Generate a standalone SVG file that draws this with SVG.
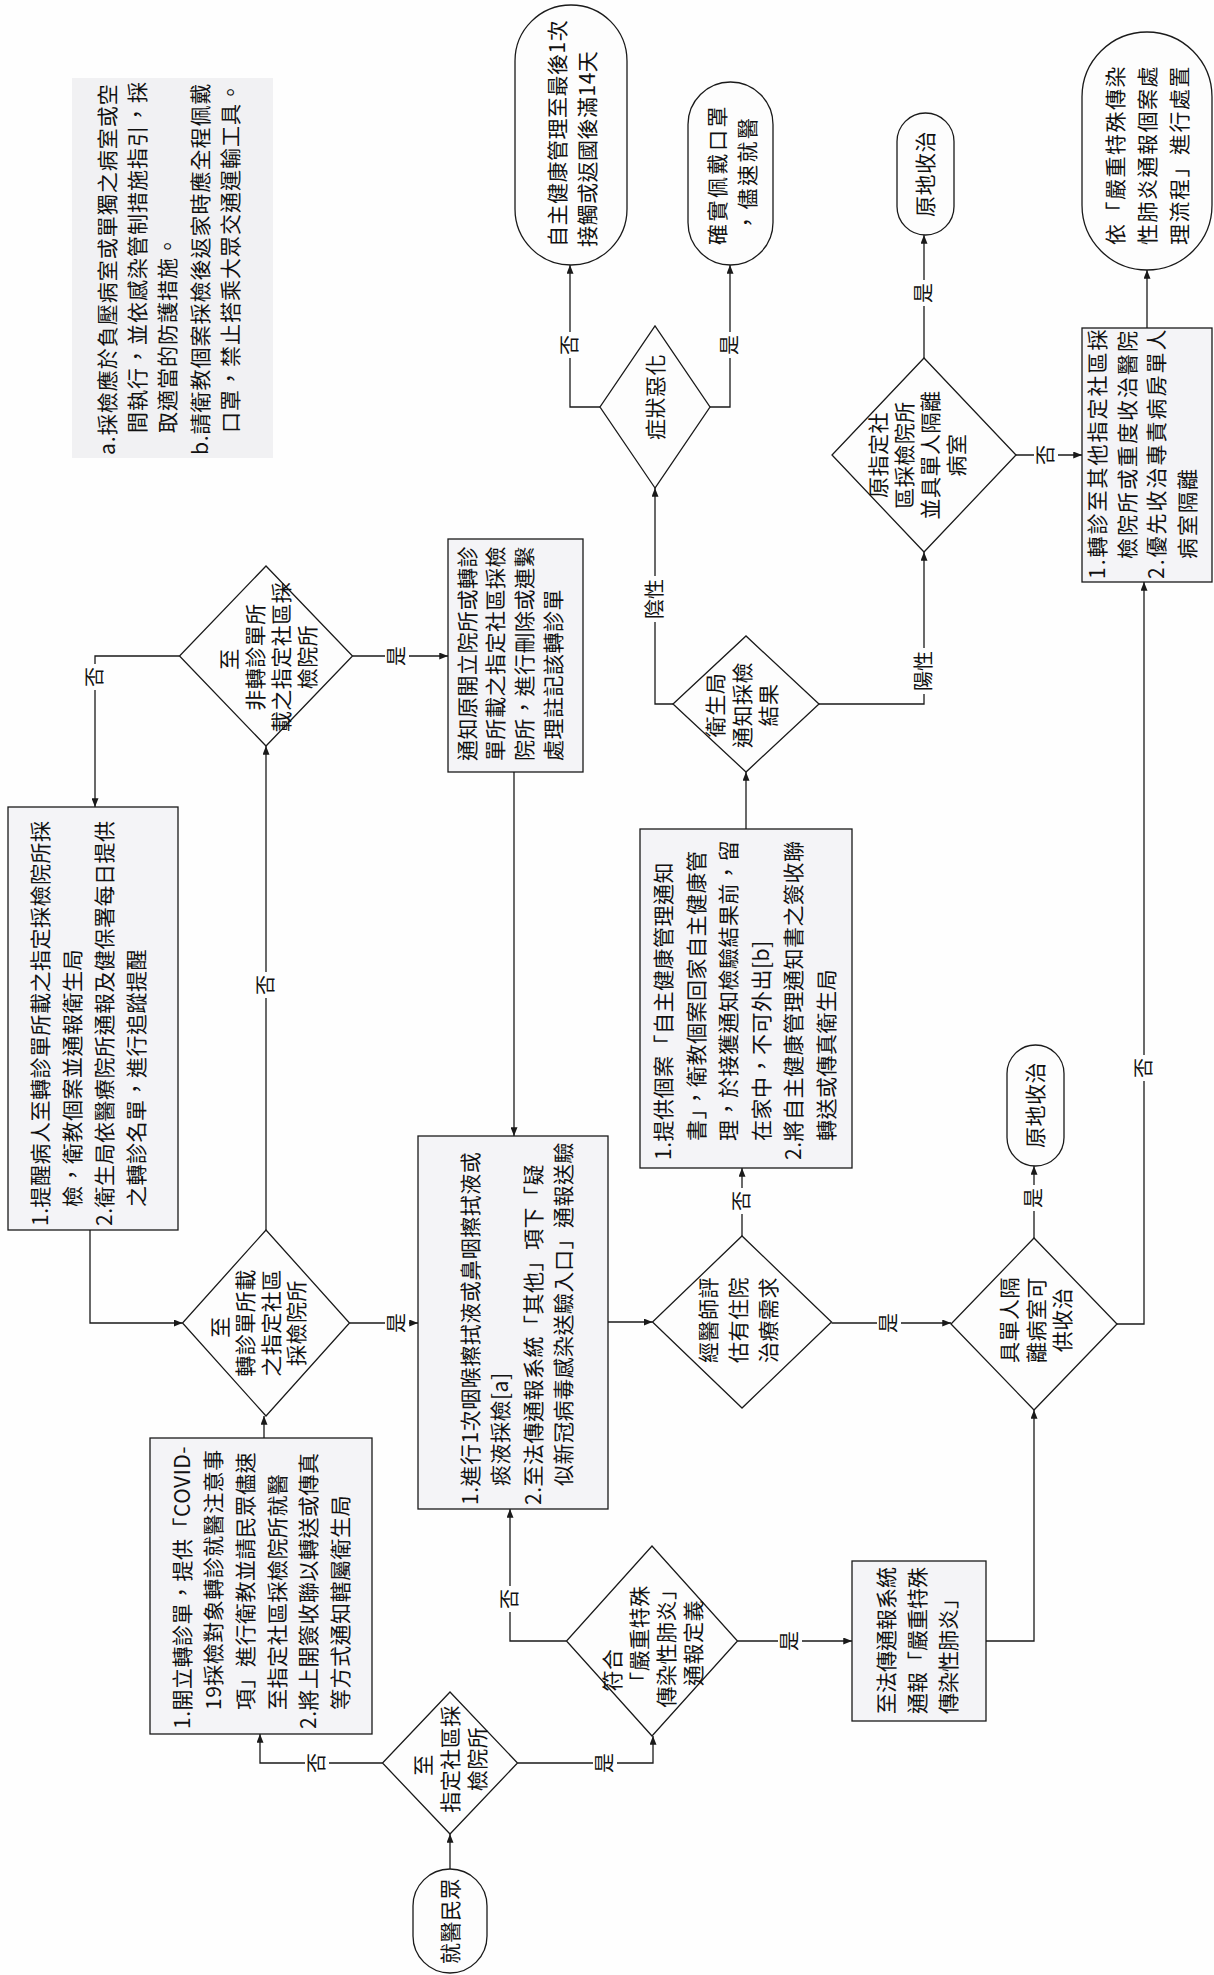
<svg xmlns="http://www.w3.org/2000/svg" width="1214" height="1975" viewBox="0 0 1214 1975">
<defs>
<style>
.b{fill:#f4f4f7;stroke:#1a1a1a;stroke-width:1.3}
.w{fill:#fdfdfd;stroke:#1a1a1a;stroke-width:1.3}
.ln{fill:none;stroke:#1a1a1a;stroke-width:1.3}
.t{font-family:"Noto Sans CJK TC","Noto Sans CJK SC",sans-serif;font-size:21px;fill:#111;letter-spacing:0.5px}
.m{text-anchor:middle}
.lb{font-family:"Noto Sans CJK TC","Noto Sans CJK SC",sans-serif;font-size:20px;fill:#111;text-anchor:middle}
.bg{fill:#fefefe}
</style>
<marker id="ah" viewBox="0 0 10 8" refX="10" refY="4" markerWidth="9" markerHeight="7" orient="auto" markerUnits="userSpaceOnUse"><path d="M0,0L10,4L0,8z" fill="#1a1a1a"/></marker>
</defs>
<rect width="1214" height="1975" fill="#fefefe"/>
<g transform="translate(0,1975) rotate(-90)">

<g id="notes">
<rect x="1517" y="72" width="380" height="201" fill="#f1f1f3"/>
<text class="t" style="letter-spacing:1px"><tspan x="1520" y="114.5">a.採檢應於負壓病室或單獨之病室或空</tspan><tspan x="1542" y="144.5">間執行，並依感染管制措施指引，採</tspan><tspan x="1542" y="174.5">取適當的防護措施。</tspan><tspan x="1520" y="207.5">b.請衛教個案採檢後返家時應全程佩戴</tspan><tspan x="1542" y="237.5">口罩，禁止搭乘大眾交通運輸工具。</tspan></text>
</g>

<g id="connectors">
<path class="ln" d="M106,450H141" marker-end="url(#ah)"/>
<path class="ln" d="M212,382.5V260H241" marker-end="url(#ah)"/>
<path class="ln" d="M212,517.5V653H239" marker-end="url(#ah)"/>
<path class="ln" d="M334,566.5V510H466" marker-end="url(#ah)"/>
<path class="ln" d="M334,737.5V852" marker-end="url(#ah)"/>
<path class="ln" d="M537,264H559" marker-end="url(#ah)"/>
<path class="ln" d="M652,349.5V418" marker-end="url(#ah)"/>
<path class="ln" d="M745,266H1229" marker-end="url(#ah)"/>
<path class="ln" d="M745,90H652V182.5" marker-end="url(#ah)"/>
<path class="ln" d="M1319,179.5V95H1168" marker-end="url(#ah)"/>
<path class="ln" d="M1319,352.5V448" marker-end="url(#ah)"/>
<path class="ln" d="M1203,514H839" marker-end="url(#ah)"/>
<path class="ln" d="M653,608V652.5" marker-end="url(#ah)"/>
<path class="ln" d="M739,742H807" marker-end="url(#ah)"/>
<path class="ln" d="M652,831.5V951" marker-end="url(#ah)"/>
<path class="ln" d="M1146,746H1203" marker-end="url(#ah)"/>
<path class="ln" d="M1271,673V655H1487" marker-end="url(#ah)"/>
<path class="ln" d="M1271,819V924H1423" marker-end="url(#ah)"/>
<path class="ln" d="M1568,600V570H1710" marker-end="url(#ah)"/>
<path class="ln" d="M1568,710V730H1710" marker-end="url(#ah)"/>
<path class="ln" d="M1617,924H1740" marker-end="url(#ah)"/>
<path class="ln" d="M1520,1016V1082" marker-end="url(#ah)"/>
<path class="ln" d="M1647,1147H1705" marker-end="url(#ah)"/>
<path class="ln" d="M334,986V1034H565" marker-end="url(#ah)"/>
<path class="ln" d="M737,1034H809" marker-end="url(#ah)"/>
<path class="ln" d="M651,1117V1144H1393" marker-end="url(#ah)"/>

<rect class="bg" x="199" y="305" width="26" height="24"/><text class="lb" x="212" y="324">否</text>
<rect class="bg" x="199" y="593" width="26" height="24"/><text class="lb" x="212" y="612">是</text>
<rect class="bg" x="363" y="498" width="26" height="24"/><text class="lb" x="376" y="517">否</text>
<rect class="bg" x="321" y="778" width="26" height="24"/><text class="lb" x="334" y="797">是</text>
<rect class="bg" x="639" y="385" width="26" height="24"/><text class="lb" x="652" y="404">是</text>
<rect class="bg" x="977" y="254" width="26" height="24"/><text class="lb" x="990" y="273">否</text>
<rect class="bg" x="1285" y="83" width="26" height="24"/><text class="lb" x="1298" y="102">否</text>
<rect class="bg" x="1306" y="385" width="26" height="24"/><text class="lb" x="1319" y="404">是</text>
<rect class="bg" x="761" y="730" width="26" height="24"/><text class="lb" x="774" y="749">否</text>
<rect class="bg" x="639" y="877" width="26" height="24"/><text class="lb" x="652" y="896">是</text>
<rect class="bg" x="1353" y="643" width="46" height="24"/><text class="lb" x="1376" y="662">陰性</text>
<rect class="bg" x="1281" y="912" width="46" height="24"/><text class="lb" x="1304" y="931">陽性</text>
<rect class="bg" x="1617" y="558" width="26" height="24"/><text class="lb" x="1630" y="577">否</text>
<rect class="bg" x="1617" y="718" width="26" height="24"/><text class="lb" x="1630" y="737">是</text>
<rect class="bg" x="1669" y="912" width="26" height="24"/><text class="lb" x="1682" y="931">是</text>
<rect class="bg" x="1507" y="1034" width="26" height="24"/><text class="lb" x="1520" y="1053">否</text>
<rect class="bg" x="764" y="1022" width="26" height="24"/><text class="lb" x="777" y="1041">是</text>
<rect class="bg" x="894" y="1132" width="26" height="24"/><text class="lb" x="907" y="1151">否</text>
</g>

<g id="n-start">
<rect class="w" x="2" y="413" width="104" height="74" rx="37"/>
<text class="t m" x="54" y="457.5">就醫民眾</text>
</g>

<g id="n-d-designated">
<polygon class="w" points="141,450 212,382.5 283,450 212,517.5"/>
<text class="t m"><tspan x="210" y="430.5">至</tspan><tspan x="216" y="457.5">指定社區採</tspan><tspan x="216" y="484.5">檢院所</tspan></text>
</g>

<g id="n-d-severe">
<polygon class="w" points="239,652 334,566.5 429,652 334,737.5"/>
<text class="t m"><tspan x="305" y="619.5">符合</tspan><tspan x="336" y="646.5">「嚴重特殊</tspan><tspan x="332" y="673.5">傳染性肺炎」</tspan><tspan x="332" y="700.5">通報定義</tspan></text>
</g>

<g id="n-b-referral">
<rect class="b" x="241" y="150" width="296" height="222"/>
<text class="t"><tspan x="246" y="189.5">1.開立轉診單，提供「COVID-</tspan><tspan x="265" y="220.5">19採檢對象轉診就醫注意事</tspan><tspan x="265" y="252.5">項」進行衛教並請民眾儘速</tspan><tspan x="265" y="284.5">至指定社區採檢院所就醫</tspan><tspan x="246" y="315.5">2.將上開簽收聯以轉送或傳真</tspan><tspan x="265" y="347.5">等方式通知轄屬衛生局</tspan></text>
</g>

<g id="n-d-listed">
<polygon class="w" points="559,266 652,182.5 745,266 652,349.5"/>
<text class="t m"><tspan x="648" y="227.5">至</tspan><tspan x="652" y="252.5">轉診單所載</tspan><tspan x="652" y="278.5">之指定社區</tspan><tspan x="652" y="303.5">採檢院所</tspan></text>
</g>

<g id="n-b-remind">
<rect class="b" x="745" y="8" width="423" height="170"/>
<text class="t"><tspan x="749" y="47.5">1.提醒病人至轉診單所載之指定採檢院所採</tspan><tspan x="768" y="79.5">檢，衛教個案並通報衛生局</tspan><tspan x="749" y="111.5">2.衛生局依醫療院所通報及健保署每日提供</tspan><tspan x="768" y="143.5">之轉診名單，進行追蹤提醒</tspan></text>
</g>

<g id="n-d-unlisted">
<polygon class="w" points="1229,266 1319,179.5 1409,266 1319,352.5"/>
<text class="t m"><tspan x="1316" y="236.5">至</tspan><tspan x="1318" y="262.5">非轉診單所</tspan><tspan x="1318" y="288.5">載之指定社區採</tspan><tspan x="1318" y="314.5">檢院所</tspan></text>
</g>

<g id="n-b-notify">
<rect class="b" x="1203" y="448" width="233" height="135"/>
<text class="t"><tspan x="1214" y="474.5">通知原開立院所或轉診</tspan><tspan x="1214" y="502.5">單所載之指定社區採檢</tspan><tspan x="1214" y="531.5">院所，進行刪除或連繫</tspan><tspan x="1214" y="560.5">處理註記該轉診單</tspan></text>
</g>

<g id="n-b-sample">
<rect class="b" x="466" y="418" width="373" height="190"/>
<text class="t"><tspan x="470" y="477.5">1.進行1次咽喉擦拭液或鼻咽擦拭液或</tspan><tspan x="489" y="507.5">痰液採檢[a]</tspan><tspan x="470" y="540.5">2.至法傳通報系統「其他」項下「疑</tspan><tspan x="489" y="570.5">似新冠病毒感染送驗入口」通報送驗</tspan></text>
</g>

<g id="n-d-inpatient">
<polygon class="w" points="567,742 653,652.5 739,742 653,831.5"/>
<text class="t m"><tspan x="655" y="715.5">經醫師評</tspan><tspan x="655" y="745.5">估有住院</tspan><tspan x="655" y="775.5">治療需求</tspan></text>
</g>

<g id="n-b-selfmgmt">
<rect class="b" x="807" y="640" width="339" height="212"/>
<text class="t"><tspan x="815" y="670.5">1.提供個案「自主健康管理通知</tspan><tspan x="834" y="703.5">書」，衛教個案回家自主健康管</tspan><tspan x="834" y="735.5">理，於接獲通知檢驗結果前，留</tspan><tspan x="834" y="768.5">在家中，不可外出[b]</tspan><tspan x="815" y="800.5">2.將自主健康管理通知書之簽收聯</tspan><tspan x="834" y="833.5">轉送或傳真衛生局</tspan></text>
</g>

<g id="n-d-result">
<polygon class="w" points="1203,746 1271,673 1339,746 1271,819"/>
<text class="t m"><tspan x="1270" y="722.5">衛生局</tspan><tspan x="1270" y="749.5">通知採檢</tspan><tspan x="1270" y="775.5">結果</tspan></text>
</g>

<g id="n-d-worse">
<polygon class="w" points="1487,655 1568,600 1649,655 1568,710"/>
<text class="t m" x="1578" y="662.5">症狀惡化</text>
</g>

<g id="n-t-14days">
<rect class="w" x="1710" y="515" width="260" height="112" rx="56"/>
<text class="t"><tspan x="1728" y="564.5">自主健康管理至最後1次</tspan><tspan x="1728" y="594.5">接觸或返國後滿14天</tspan></text>
</g>

<g id="n-t-mask">
<rect class="w" x="1710" y="688" width="183" height="85" rx="42.5"/>
<text class="t" style="letter-spacing:2.5px"><tspan x="1730" y="724.5">確實佩戴口罩</tspan><tspan x="1742" y="754.5">，儘速就醫</tspan></text>
</g>

<g id="n-d-origin">
<polygon class="w" points="1423,924 1520,832 1617,924 1520,1016"/>
<text class="t m"><tspan x="1520" y="885.5">原指定社</tspan><tspan x="1520" y="911.5">區採檢院所</tspan><tspan x="1520" y="937.5">並具單人隔離</tspan><tspan x="1520" y="963.5">病室</tspan></text>
</g>

<g id="n-t-local1">
<rect class="w" x="1740" y="897" width="122" height="57" rx="28.5"/>
<text class="t m" x="1801" y="933">原地收治</text>
</g>

<g id="n-b-transfer">
<rect class="b" x="1393" y="1082" width="254" height="130"/>
<text class="t" style="letter-spacing:2px"><tspan x="1396" y="1104.5">1.轉診至其他指定社區採</tspan><tspan x="1416" y="1134.5">檢院所或重度收治醫院</tspan><tspan x="1396" y="1163.5">2.優先收治專責病房單人</tspan><tspan x="1416" y="1194.5">病室隔離</tspan></text>
</g>

<g id="n-t-process">
<rect class="w" x="1705" y="1082" width="238" height="130" rx="65"/>
<text class="t" style="letter-spacing:1.5px"><tspan x="1730" y="1122.5">依「嚴重特殊傳染</tspan><tspan x="1730" y="1154.5">性肺炎通報個案處</tspan><tspan x="1730" y="1186.5">理流程」進行處置</tspan></text>
</g>

<g id="n-b-report">
<rect class="b" x="254" y="852" width="160" height="134"/>
<text class="t" style="letter-spacing:0px"><tspan x="261" y="893.5">至法傳通報系統</tspan><tspan x="261" y="924.5">通報「嚴重特殊</tspan><tspan x="261" y="955.5">傳染性肺炎」</tspan></text>
</g>

<g id="n-d-room">
<polygon class="w" points="565,1034 651,951 737,1034 651,1117"/>
<text class="t m"><tspan x="655" y="1016.5">具單人隔</tspan><tspan x="655" y="1043.5">離病室可</tspan><tspan x="655" y="1069.5">供收治</tspan></text>
</g>

<g id="n-t-local2">
<rect class="w" x="809" y="1007" width="121" height="57" rx="28.5"/>
<text class="t m" x="870" y="1043">原地收治</text>
</g>

</g>
</svg>
